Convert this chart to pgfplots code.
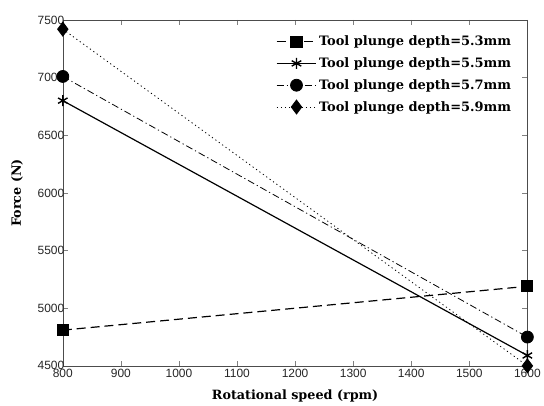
\documentclass[border=0pt]{standalone}
\usepackage{pgfplots}
\pgfplotsset{compat=1.18}
\usepackage{fontspec}
\setmainfont{DejaVu Serif}
\setsansfont{Liberation Sans}
\usetikzlibrary{calc}
\begin{document}
\begin{tikzpicture}
\begin{axis}[
  scale only axis,
  width=466pt, height=347pt,
  xmin=800, xmax=1600, ymin=4500, ymax=7500,
  xtick={800,900,...,1600}, ytick={4500,5000,...,7500},
  tick pos=both, tick align=inside,
  major tick length=5pt,
  /pgf/number format/assume math mode=true,
  /pgf/number format/1000 sep={},
  ticklabel style={font=\sffamily\fontsize{12}{13}\selectfont, text=black!85},
  yticklabel style={xshift=5pt},
  xticklabel style={yshift=0pt},
  xlabel={\textbf{Rotational speed (rpm)}},
  ylabel={\textbf{Force (N)}},
  label style={font=\fontsize{12.8}{14}\selectfont},
  xlabel style={yshift=-5pt},
  ylabel style={yshift=8pt},
  axis line style={black!70},
  legend style={at={(0.972,0.963)}, anchor=north east, draw=none, fill=none,
    font=\bfseries\fontsize{13}{15}\selectfont, row sep=6.5pt,
    legend cell align=left, inner sep=1pt},
  legend image code/.code={%
    \draw[mark repeat=2,mark phase=2] plot coordinates {(0pt,0pt) (20pt,0pt) (40pt,0pt)};},
  every axis plot/.append style={line width=1.2pt, black},
]
\addplot[dash pattern=on 9pt off 5pt, mark=square*, mark size=5.5pt, mark options={solid}]
  coordinates {(800,4810) (1600,5190)};
\addlegendentry{Tool plunge depth=5.3mm}
\addplot[solid, mark=asterisk, mark size=5.5pt, mark options={solid, line width=1.4pt}]
  coordinates {(800,6800) (1600,4590)};
\addlegendentry{Tool plunge depth=5.5mm}
\addplot[line width=0.8pt, dash pattern=on 7pt off 3pt on 1.2pt off 3pt, mark=*, mark size=6pt, mark options={solid}]
  coordinates {(800,7010) (1600,4750)};
\addlegendentry{Tool plunge depth=5.7mm}
\addplot[line width=0.8pt, dash pattern=on 1.2pt off 3pt, mark=diamond*, mark size=7pt, mark options={solid}]
  coordinates {(800,7420) (1600,4500)};
\addlegendentry{Tool plunge depth=5.9mm}
\end{axis}
\path ($(current axis.south west)+(-63pt,-39pt)$) rectangle ($(current axis.north east)+(15pt,20pt)$);
\end{tikzpicture}
\end{document}
